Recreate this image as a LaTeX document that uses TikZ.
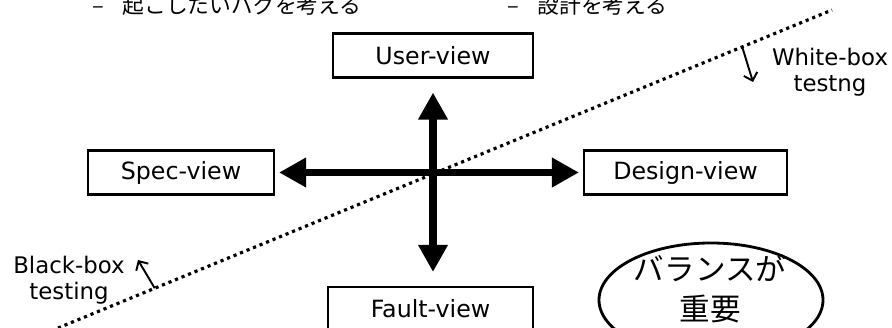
\documentclass[tikz,border=0pt]{standalone}
\usepackage{fontspec}
\setmainfont{DejaVu Sans}
\newfontfamily\jpfont{Noto Sans CJK JP}
\usetikzlibrary{arrows.meta,shapes.geometric,calc}

\begin{document}
\begin{tikzpicture}[
    viewbox/.style={draw,line width=1.2pt,minimum height=0.88cm,inner sep=0pt,font=\fontsize{13.5}{16}\selectfont},
    bigarrow/.style={line width=4pt,{Triangle[length=0.54cm,width=0.56cm]}-{Triangle[length=0.54cm,width=0.56cm]}},
    boundary/.style={line width=1.8pt,dash pattern=on 1.8pt off 2.2pt},
    sidelabel/.style={align=center,font=\fontsize{13}{14.7}\selectfont},
    thinarrow/.style={line width=1.1pt,-{Straight Barb[length=4pt,width=8pt]}},
    note/.style={anchor=base west,inner sep=0pt,font=\jpfont\fontsize{12.4}{14}\selectfont}
]
    \useasboundingbox (0,0) rectangle (17.84,6.56);
    % 上方的说明
    \node[note] (bugnote) at (1.84,6.28) {–\hspace{0.85em}起こしたいバグを考える};
    \node[note] (designnote) at (10.14,6.28) {–\hspace{0.85em}設計を考える};
    % 绘制分界线
    \coordinate (lo) at (1.16,0);
    \coordinate (hi) at (16.64,6.36);
    \draw[boundary](lo)--(hi);
    % 四个视点
    \node[viewbox,minimum width=4cm] (user) at (8.66,5.45) {User-view};
    \node[viewbox,minimum width=3.72cm] (spec) at (3.62,3.11) {Spec-view};
    \node[viewbox,minimum width=4.06cm] (design) at (13.71,3.11) {Design-view};
    \node[viewbox,minimum width=4.1cm] (fault) at (8.61,0.38) {Fault-view};
    % 绘制十字箭头
    \draw[bigarrow,shorten <=0.28cm,shorten >=0.28cm](user.south)--(user.south |- fault.north);
    \draw[bigarrow,shorten <=0.08cm,shorten >=0.08cm](spec.east)--(design.west);
    % 添加标签
    \coordinate (wfoot) at ($(lo)!0.884!(hi)$);
    \coordinate (wtip) at (15.06,4.92);
    \draw[thinarrow](wfoot)--(wtip);
    \node[sidelabel] (whitebox) at (16.6,5.12) {White-box\\testng};
    \coordinate (bfoot) at ($(lo)!0.125!(hi)$);
    \coordinate (btip) at (2.76,1.36);
    \draw[thinarrow](bfoot)--(btip);
    \node[sidelabel] (blackbox) at (1.38,0.96) {Black-box\\testing};
    % 椭圆
    \node[draw,ellipse,line width=1.6pt,minimum width=4.48cm,minimum height=2.28cm] (balance) at (14.22,0.56) {};
    \node[align=center,font=\jpfont\fontsize{17.4}{22.6}\selectfont] (balancetext) at (14.2,0.78) {バランスが\\重要};
\end{tikzpicture}
\end{document}
